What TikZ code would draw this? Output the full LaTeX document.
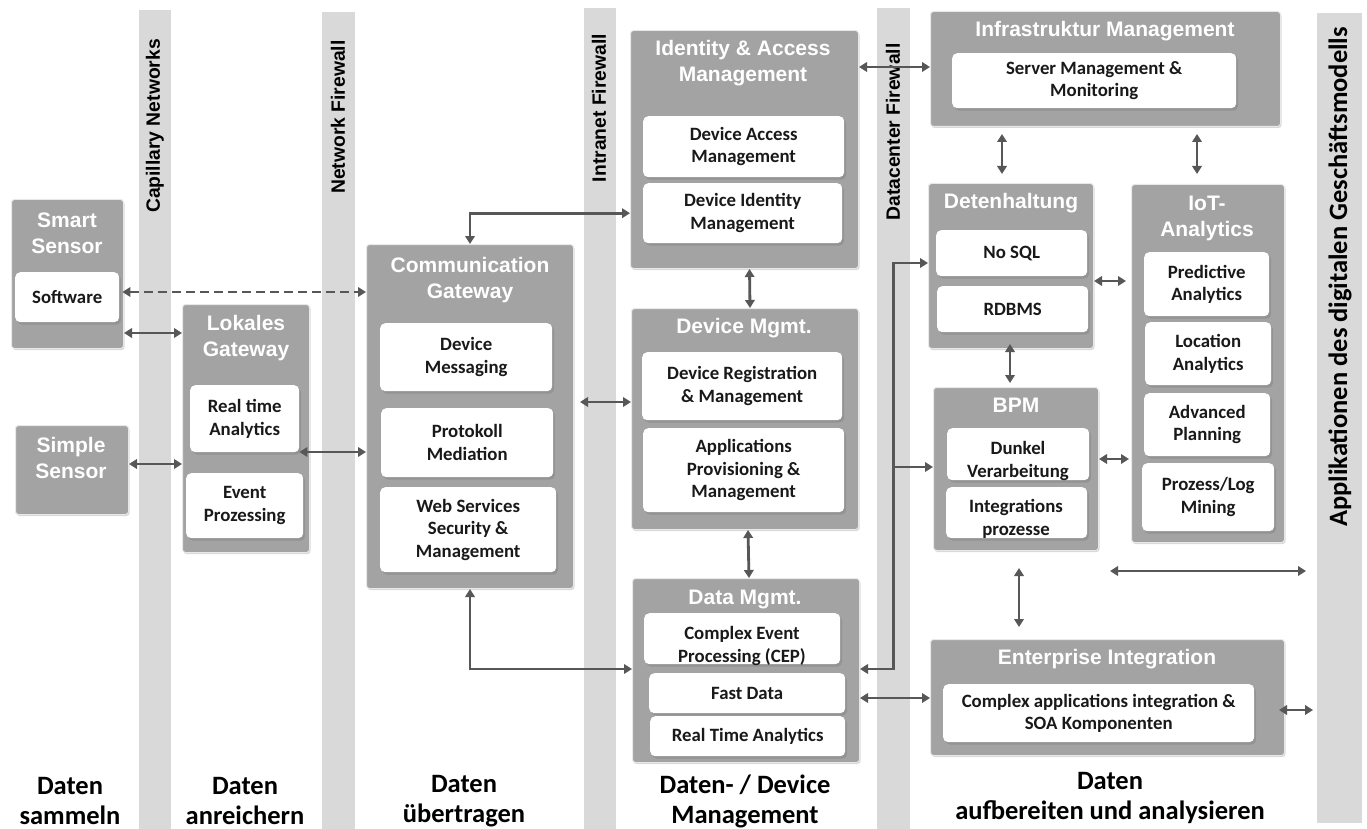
\documentclass[tikz,border=0pt]{standalone}
\usepackage{fontspec}
\newfontfamily\carl{Carlito}
\newfontfamily\ari{Liberation Sans}
\usetikzlibrary{arrows.meta,shadows,calc}
\definecolor{boxgray}{gray}{0.64}
\definecolor{stripegray}{gray}{0.85}
\definecolor{arrowgray}{gray}{0.34}
\newcommand\mybox[7]{\node[#1,minimum width={#4pt-#2pt},minimum height={#5pt-#3pt}] (#6) at (#2,#3) {#7};}
\tikzset{
 outer/.style={fill=boxgray, draw=white!75!boxgray, line width=1pt, rounded corners=3pt,
   drop shadow={shadow xshift=1pt, shadow yshift=-1.5pt, opacity=0.3}, anchor=north west, inner sep=0pt},
 inner/.style={fill=white, rounded corners=5pt, drop shadow={shadow xshift=2pt, shadow yshift=-2.5pt, opacity=0.45},
   anchor=north west, inner sep=0pt, align=center, font=\carl\bfseries\fontsize{18.8}{22.5}\selectfont, text=black!90},
 intext/.style={inner sep=0pt, align=center, font=\carl\bfseries\fontsize{18.8}{22.5}\selectfont, text=black!90},
 ttl/.style={text=white, align=center, font=\ari\bfseries\fontsize{21}{26}\selectfont},
 lbl/.style={rotate=90, font=\ari\bfseries\fontsize{19.3}{21}\selectfont},
 foot/.style={align=center, font=\carl\bfseries\fontsize{26.5}{30}\selectfont},
 stripe/.style={fill=stripegray, anchor=north west, inner sep=0pt, draw=none},
 arr/.style={draw=arrowgray, line width=2.8pt, {Triangle[length=8pt,width=9.5pt]}-{Triangle[length=8pt,width=9.5pt]}},
 arrone/.style={draw=arrowgray, line width=2.8pt, -{Triangle[length=8pt,width=9.5pt]}},
}
\begin{document}
\begin{tikzpicture}[x=1pt,y=-1pt]
\fill[white] (0,0) rectangle (1367,829);
\useasboundingbox (0,0) rectangle (1367,829);
% stripes
\mybox{stripe}{139}{10}{171}{829}{caps}{}
\mybox{stripe}{322}{12}{355}{829}{nets}{}
\mybox{stripe}{584}{8}{616}{829}{ints}{}
\mybox{stripe}{877}{8}{910}{829}{dcs}{}
\mybox{stripe}{1317}{13}{1362}{823}{apps}{}
\node[lbl] (capl) at (155,126) {Capillary Networks};
\node[lbl] (netl) at (338,117) {Network Firewall};
\node[lbl] (intl) at (599,108) {Intranet Firewall};
\node[lbl] (dcl) at (893,132) {Datacenter Firewall};
\node[lbl, font=\carl\bfseries\fontsize{26.5}{28}\selectfont] (appl) at (1340,277) {Applikationen des digitalen Geschäftsmodells};
% boxes
\mybox{outer}{11}{199}{123}{348}{smart}{}
\node[ttl] (smartt) at (67,233) {Smart\\Sensor};
\mybox{inner}{15}{272}{119}{322}{soft}{Software}
\mybox{outer}{182}{304}{309}{552}{lokal}{}
\node[ttl] (lokalt) at (246,338) {Lokales\\Gateway};
\mybox{inner}{190}{385}{299}{452}{rta1}{Real time\\Analytics}
\mybox{inner}{186}{473}{303}{538}{evp}{Event\\Prozessing}
\mybox{outer}{15}{425}{128}{514}{simple}{}
\node[ttl] (simplet) at (71,458) {Simple\\Sensor};
\mybox{outer}{366}{244}{573}{588}{comm}{}
\node[ttl] (commt) at (470,280) {Communication\\Gateway};
\mybox{inner}{380}{323}{552}{391}{dmsg}{Device\\Messaging}
\mybox{inner}{381}{408}{553}{477}{pmed}{Protokoll\\Mediation}
\mybox{inner}{380}{487}{556}{572}{wss}{Web Services\\Security \&\\Management}
\mybox{outer}{630}{30}{858}{268}{iam}{}
\node[ttl] (iamt) at (743,63) {Identity \& Access\\Management};
\mybox{inner}{643}{116}{844}{177}{dam}{Device Access\\Management}
\mybox{inner}{643}{183}{842}{243}{dim}{Device Identity\\Management}
\mybox{outer}{631}{308}{858}{529}{dev}{}
\node[ttl] (devt) at (744,328) {Device Mgmt.};
\mybox{inner}{642}{352}{842}{420}{dreg}{Device Registration\\\& Management}
\mybox{inner}{643}{428}{844}{512}{apm}{Applications\\Provisioning \&\\Management}
\mybox{outer}{632}{578}{859}{762}{data}{}
\node[ttl] (datat) at (745,599) {Data Mgmt.};
\mybox{inner}{644}{613}{840}{664}{cep}{}
\node[intext] (cept) at (742,646) {Complex Event\\Processing (CEP)};
\mybox{inner}{649}{673}{845}{713}{fast}{Fast Data}
\mybox{inner}{650}{716}{845}{756}{rta2}{Real Time Analytics}
\mybox{outer}{930}{11}{1280}{126}{infra}{}
\node[ttl] (infrat) at (1105,31) {Infrastruktur Management};
\mybox{inner}{952}{53}{1236}{108}{srv}{Server Management \&\\Monitoring}
\mybox{outer}{928}{183}{1093}{348}{det}{}
\node[ttl] (dett) at (1011,203) {Detenhaltung};
\mybox{inner}{936}{230}{1087}{276}{nosql}{No SQL}
\mybox{inner}{937}{286}{1088}{332}{rdbms}{RDBMS}
\mybox{outer}{1131}{184}{1284}{542}{iot}{}
\node[ttl] (iott) at (1207,218) {IoT-\\Analytics};
\mybox{inner}{1144}{252}{1269}{316}{pa}{Predictive\\Analytics}
\mybox{inner}{1145}{322}{1271}{385}{la}{Location\\Analytics}
\mybox{inner}{1144}{393}{1270}{456}{ap}{Advanced\\Planning}
\mybox{inner}{1142}{463}{1274}{531}{plm}{Prozess/Log\\Mining}
\mybox{outer}{933}{387}{1098}{550}{bpm}{}
\node[ttl] (bpmt) at (1016,405) {BPM};
\mybox{inner}{947}{428}{1089}{480}{dv}{}
\node[intext] (dvt) at (1018,461) {Dunkel\\Verarbeitung};
\mybox{inner}{946}{487}{1087}{538}{ip}{}
\node[intext] (ipt) at (1016,519) {Integrations\\prozesse};
\mybox{outer}{930}{639}{1284}{755}{ent}{}
\node[ttl] (entt) at (1107,659) {Enterprise Integration};
\mybox{inner}{943}{684}{1254}{742}{cai}{Complex applications integration \&\\SOA Komponenten}
% footers
\node[foot] (f1) at (70,801) {Daten\\sammeln};
\node[foot] (f2) at (245,801) {Daten\\anreichern};
\node[foot] (f3) at (464,801) {Daten\\übertragen};
\node[foot] (f4) at (745,801) {Daten- / Device\\Management};
\node[foot] (f5) at (1110,798) {Daten\\aufbereiten und analysieren};
% arrows
\draw[arr, dashed, dash pattern=on 9pt off 5pt] ([xshift=3pt]soft.east |- 0,292) -- (comm.west |- 0,292);
\draw[arr] (smart.east |- 0,333) -- (lokal.west |- 0,333);
\draw[arr] (simple.east |- 0,464) -- (lokal.west |- 0,464);
\draw[arr] (rta1.east |- 0,452) -- (comm.west |- 0,452);
\draw[arr] ([xshift=6pt]comm.east |- 0,402) -- (dev.west |- 0,402);
\draw[arr] (comm.north) |- (iam.west |- dim.west);
\draw[arr] ([xshift=5pt]iam.south) -- ([xshift=5pt]dev.north);
\draw[arr] ([xshift=3pt]dev.south) -- ([xshift=3pt]data.north);
\draw[arr] (comm.south) |- (data.west |- 0,669);
\draw[arr] (data.east |- 0,669) -| (dcs.center |- 0,263) -- (det.west |- 0,263);
\draw[arrone] (dcs.center |- 0,467) -- (bpm.west |- 0,467);
\draw[arr] (data.east |- 0,698) -- (ent.west |- 0,698);
\draw[arr] (iam.east |- 0,67) -- (infra.west |- 0,67);
\draw[arr, shorten <=7pt, shorten >=9pt] (infra.south -| 1002,0) -- (det.north -| 1002,0);
\draw[arr, shorten <=7pt, shorten >=10pt] (infra.south -| 1197,0) -- (iot.north -| 1197,0);
\draw[arr, shorten >=5pt] (det.east |- 0,281) -- (iot.west |- 0,281);
\draw[arr, shorten <=-5pt, shorten >=4pt] (det.south -| 1010,0) -- (bpm.north -| 1010,0);
\draw[arr, shorten >=2pt] (bpm.east |- 0,459) -- (iot.west |- 0,459);
\draw[arr, shorten <=17pt, shorten >=12pt] (bpm.south -| 1019,0) -- (ent.north -| 1019,0);
\coordinate (fa) at (1110,571);
\coordinate (fb) at (1306,571);
\draw[arr] (fa) -- (fb);
\draw[arr, shorten <=-6pt, shorten >=4pt] (ent.east |- 0,710) -- (apps.west |- 0,710);
\end{tikzpicture}
\end{document}
